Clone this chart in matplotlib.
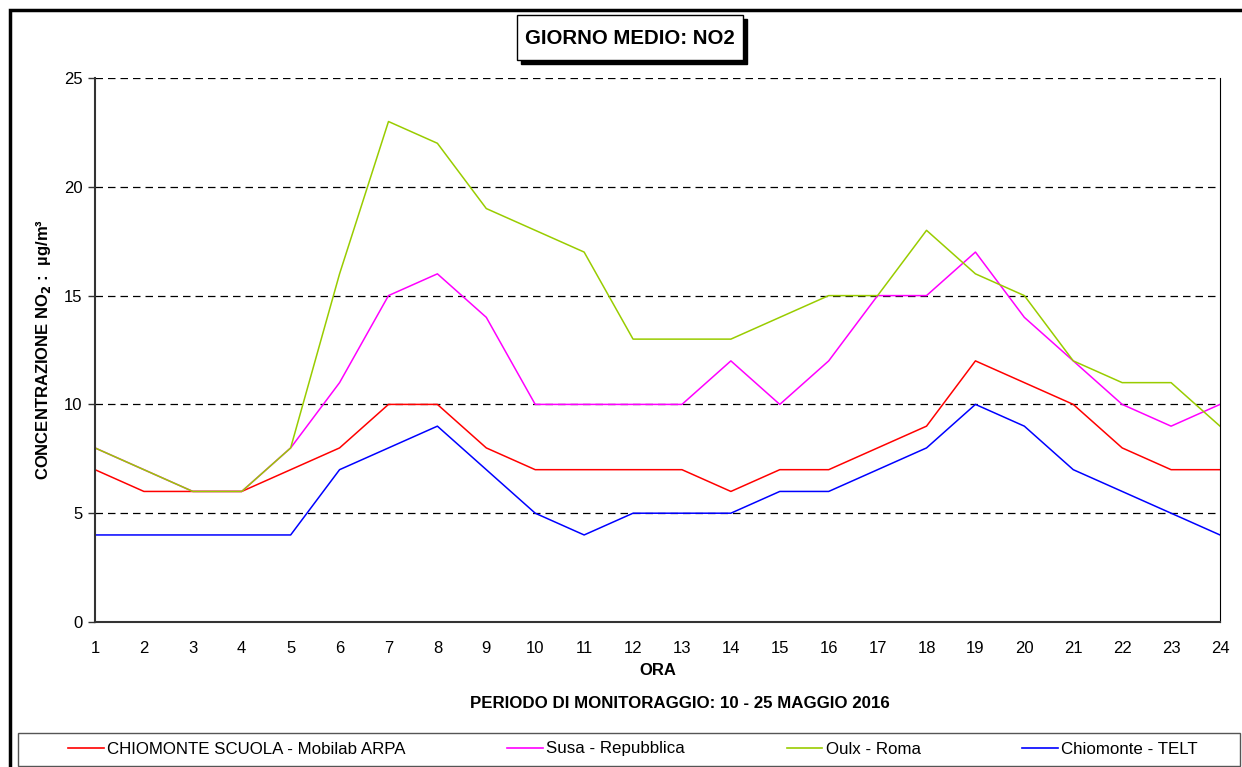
import matplotlib
matplotlib.use("Agg")
import matplotlib.pyplot as plt
from matplotlib.patches import Rectangle
from matplotlib.lines import Line2D

plt.rcParams['font.family'] = ['Liberation Sans', 'DejaVu Sans']

# dati
ore = list(range(1, 25))
chiomonte_scuola = [7, 6, 6, 6, 7, 8, 10, 10, 8, 7, 7, 7, 7, 6, 7, 7, 8, 9, 12, 11, 10, 8, 7, 7]
susa = [8, 7, 6, 6, 8, 11, 15, 16, 14, 10, 10, 10, 10, 12, 10, 12, 15, 15, 17, 14, 12, 10, 9, 10]
oulx = [8, 7, 6, 6, 8, 16, 23, 22, 19, 18, 17, 13, 13, 13, 14, 15, 15, 18, 16, 15, 12, 11, 11, 9]
chiomonte_telt = [4, 4, 4, 4, 4, 7, 8, 9, 7, 5, 4, 5, 5, 5, 6, 6, 7, 8, 10, 9, 7, 6, 5, 4]

serie = [
    ("CHIOMONTE SCUOLA - Mobilab ARPA", chiomonte_scuola, "#ff0000"),
    ("Susa - Repubblica", susa, "#ff00ff"),
    ("Oulx - Roma", oulx, "#99cc00"),
    ("Chiomonte - TELT", chiomonte_telt, "#0000ff"),
]

W, H = 1242, 767
fig = plt.figure(figsize=(W / 100, H / 100), dpi=100)


def fx(px):
    return px / W


def fy(py):
    return 1 - py / H


# cornice esterna
fig.patches.append(Rectangle((fx(10), fy(800)), fx(1300), fy(10) - fy(800),
                             transform=fig.transFigure, fill=False,
                             edgecolor="black", linewidth=2.5))

ax = fig.add_axes([fx(95), fy(622), fx(1220) - fx(95), fy(78) - fy(622)])

for nome, valori, col in serie:
    ax.plot(ore, valori, color=col, linewidth=1.1, label=nome)

ax.set_xlim(1, 24)
ax.set_ylim(0, 25)
ax.set_xticks(ore)
ax.set_yticks([0, 5, 10, 15, 20, 25])
ax.tick_params(axis='x', length=0, pad=14, labelsize=12)
ax.tick_params(axis='y', length=5, width=1, color='#333333', labelsize=12, pad=4)
for y in [5, 10, 15, 20, 25]:
    ax.axhline(y, color='black', linestyle=(0, (6, 4)), linewidth=0.9, zorder=0)
ax.spines['top'].set_visible(False)
ax.spines['left'].set_linewidth(1.5)
ax.spines['left'].set_color('#333333')
ax.spines['bottom'].set_linewidth(1.5)
ax.spines['bottom'].set_color('#333333')
ax.spines['right'].set_linewidth(0.8)

ax.set_xlabel("ORA", fontsize=12, fontweight='bold', labelpad=5)
ax.set_ylabel(r"CONCENTRAZIONE NO$_\mathbf{2}$ :  µg/m³", fontsize=12,
              fontweight='bold', labelpad=8)

fig.text(fx(680), fy(704), "PERIODO DI MONITORAGGIO: 10 - 25 MAGGIO 2016",
         ha='center', va='center', fontsize=12.2, fontweight='bold')

# titolo con ombra
fig.patches.append(Rectangle((fx(521), fy(64)), fx(226), fy(19) - fy(64),
                             transform=fig.transFigure, facecolor="black",
                             edgecolor="black"))
fig.patches.append(Rectangle((fx(517), fy(60)), fx(226), fy(15) - fy(60),
                             transform=fig.transFigure, facecolor="white",
                             edgecolor="black", linewidth=1))
fig.text(fx(630), fy(38), "GIORNO MEDIO: NO2", ha='center', va='center',
         fontsize=14.7, fontweight='bold')

# legenda
fig.patches.append(Rectangle((fx(18), fy(766)), fx(1222), fy(733) - fy(766),
                             transform=fig.transFigure, facecolor="white",
                             edgecolor="#555555", linewidth=1))
handles = [Line2D([0], [0], color=c, linewidth=1.2) for _, _, c in serie]
labels = [n for n, _, _ in serie]
fig.legend(handles, labels, loc='center', ncol=4,
           bbox_to_anchor=(fx(633), fy(749)), frameon=False, fontsize=12.2,
           handlelength=2.1, handletextpad=0.2, columnspacing=6.0,
           borderpad=0, borderaxespad=0)

fig.savefig("out.png", dpi=100)
